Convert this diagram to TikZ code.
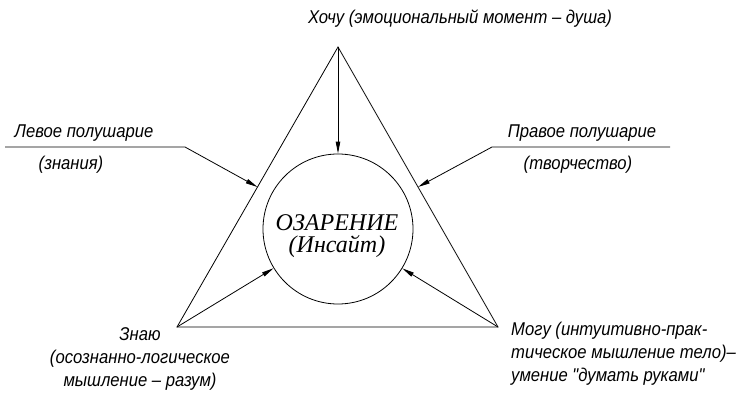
\documentclass[tikz,border=0pt]{standalone}
\usepackage{fontspec}
\setmainfont{Liberation Serif}
\newfontfamily\gostfont[FakeStretch=0.9]{Liberation Sans}
\usetikzlibrary{arrows.meta,positioning,calc}

\begin{document}
\begin{tikzpicture}[x=1pt,y=-1pt,
  lbl/.style={font=\gostfont\itshape\fontsize{18.5}{23}\selectfont,inner sep=0pt,align=center},
  core/.style={circle,draw,line width=0.8pt,minimum size=150pt,inner sep=0pt,align=center,
               font=\itshape\fontsize{24}{25}\selectfont},
  edge/.style={line width=0.8pt},
  flow/.style={-{Triangle[length=12pt,width=4.5pt]},line width=0.8pt}
]
\useasboundingbox (0,0) rectangle (742,399);
% triangle
\coordinate (want) at (338,47);
\coordinate (know) at (177,327);
\coordinate (can) at (498,327);
\draw[edge] (want) -- (know) -- (can) -- cycle;
\node[core] (insight) at (338,229) {};
\node[font=\itshape\fontsize{24}{25}\selectfont,inner sep=0pt,anchor=base] (insighttxt) at (337,230) {ОЗАРЕНИЕ};
\node[font=\itshape\fontsize{24}{25}\selectfont,inner sep=0pt,anchor=base] (insightsub) at (337,252) {(Инсайт)};
\draw[flow] (want) -- (insight);
\draw[flow] (know) -- (insight);
\draw[flow] (can) -- (insight);
% leaders
\coordinate (lend) at (5,147);
\coordinate (lknee) at (185,147);
\coordinate (lhit) at ($(know)!0.5!(want)$);
\coordinate (rend) at (670,147);
\coordinate (rknee) at (492,147);
\coordinate (rhit) at ($(can)!0.5!(want)$);
\draw[flow] (lend) -- (lknee) -- (lhit);
\draw[flow] (rend) -- (rknee) -- (rhit);
% labels
\node[lbl,anchor=base] (wanttxt) at (460,23) {Хочу (эмоциональный момент – душа)};
\node[lbl,anchor=base] (lefttxt) at (84,137) {Левое полушарие};
\node[lbl,anchor=base] (leftsub) at (71,169) {(знания)};
\node[lbl,anchor=base] (righttxt) at (582,137) {Правое полушарие};
\node[lbl,anchor=base] (rightsub) at (578,169) {(творчество)};
\node[lbl,anchor=north] (knowtxt) at (140,327) {Знаю\\(осознанно-логическое\\мышление – разум)};
\node[lbl,align=left,anchor=north west] (cantxt) at (511,322)
  {Могу (интуитивно-прак-\\тическое мышление тело)–\\умение "думать руками"};
\end{tikzpicture}
\end{document}
